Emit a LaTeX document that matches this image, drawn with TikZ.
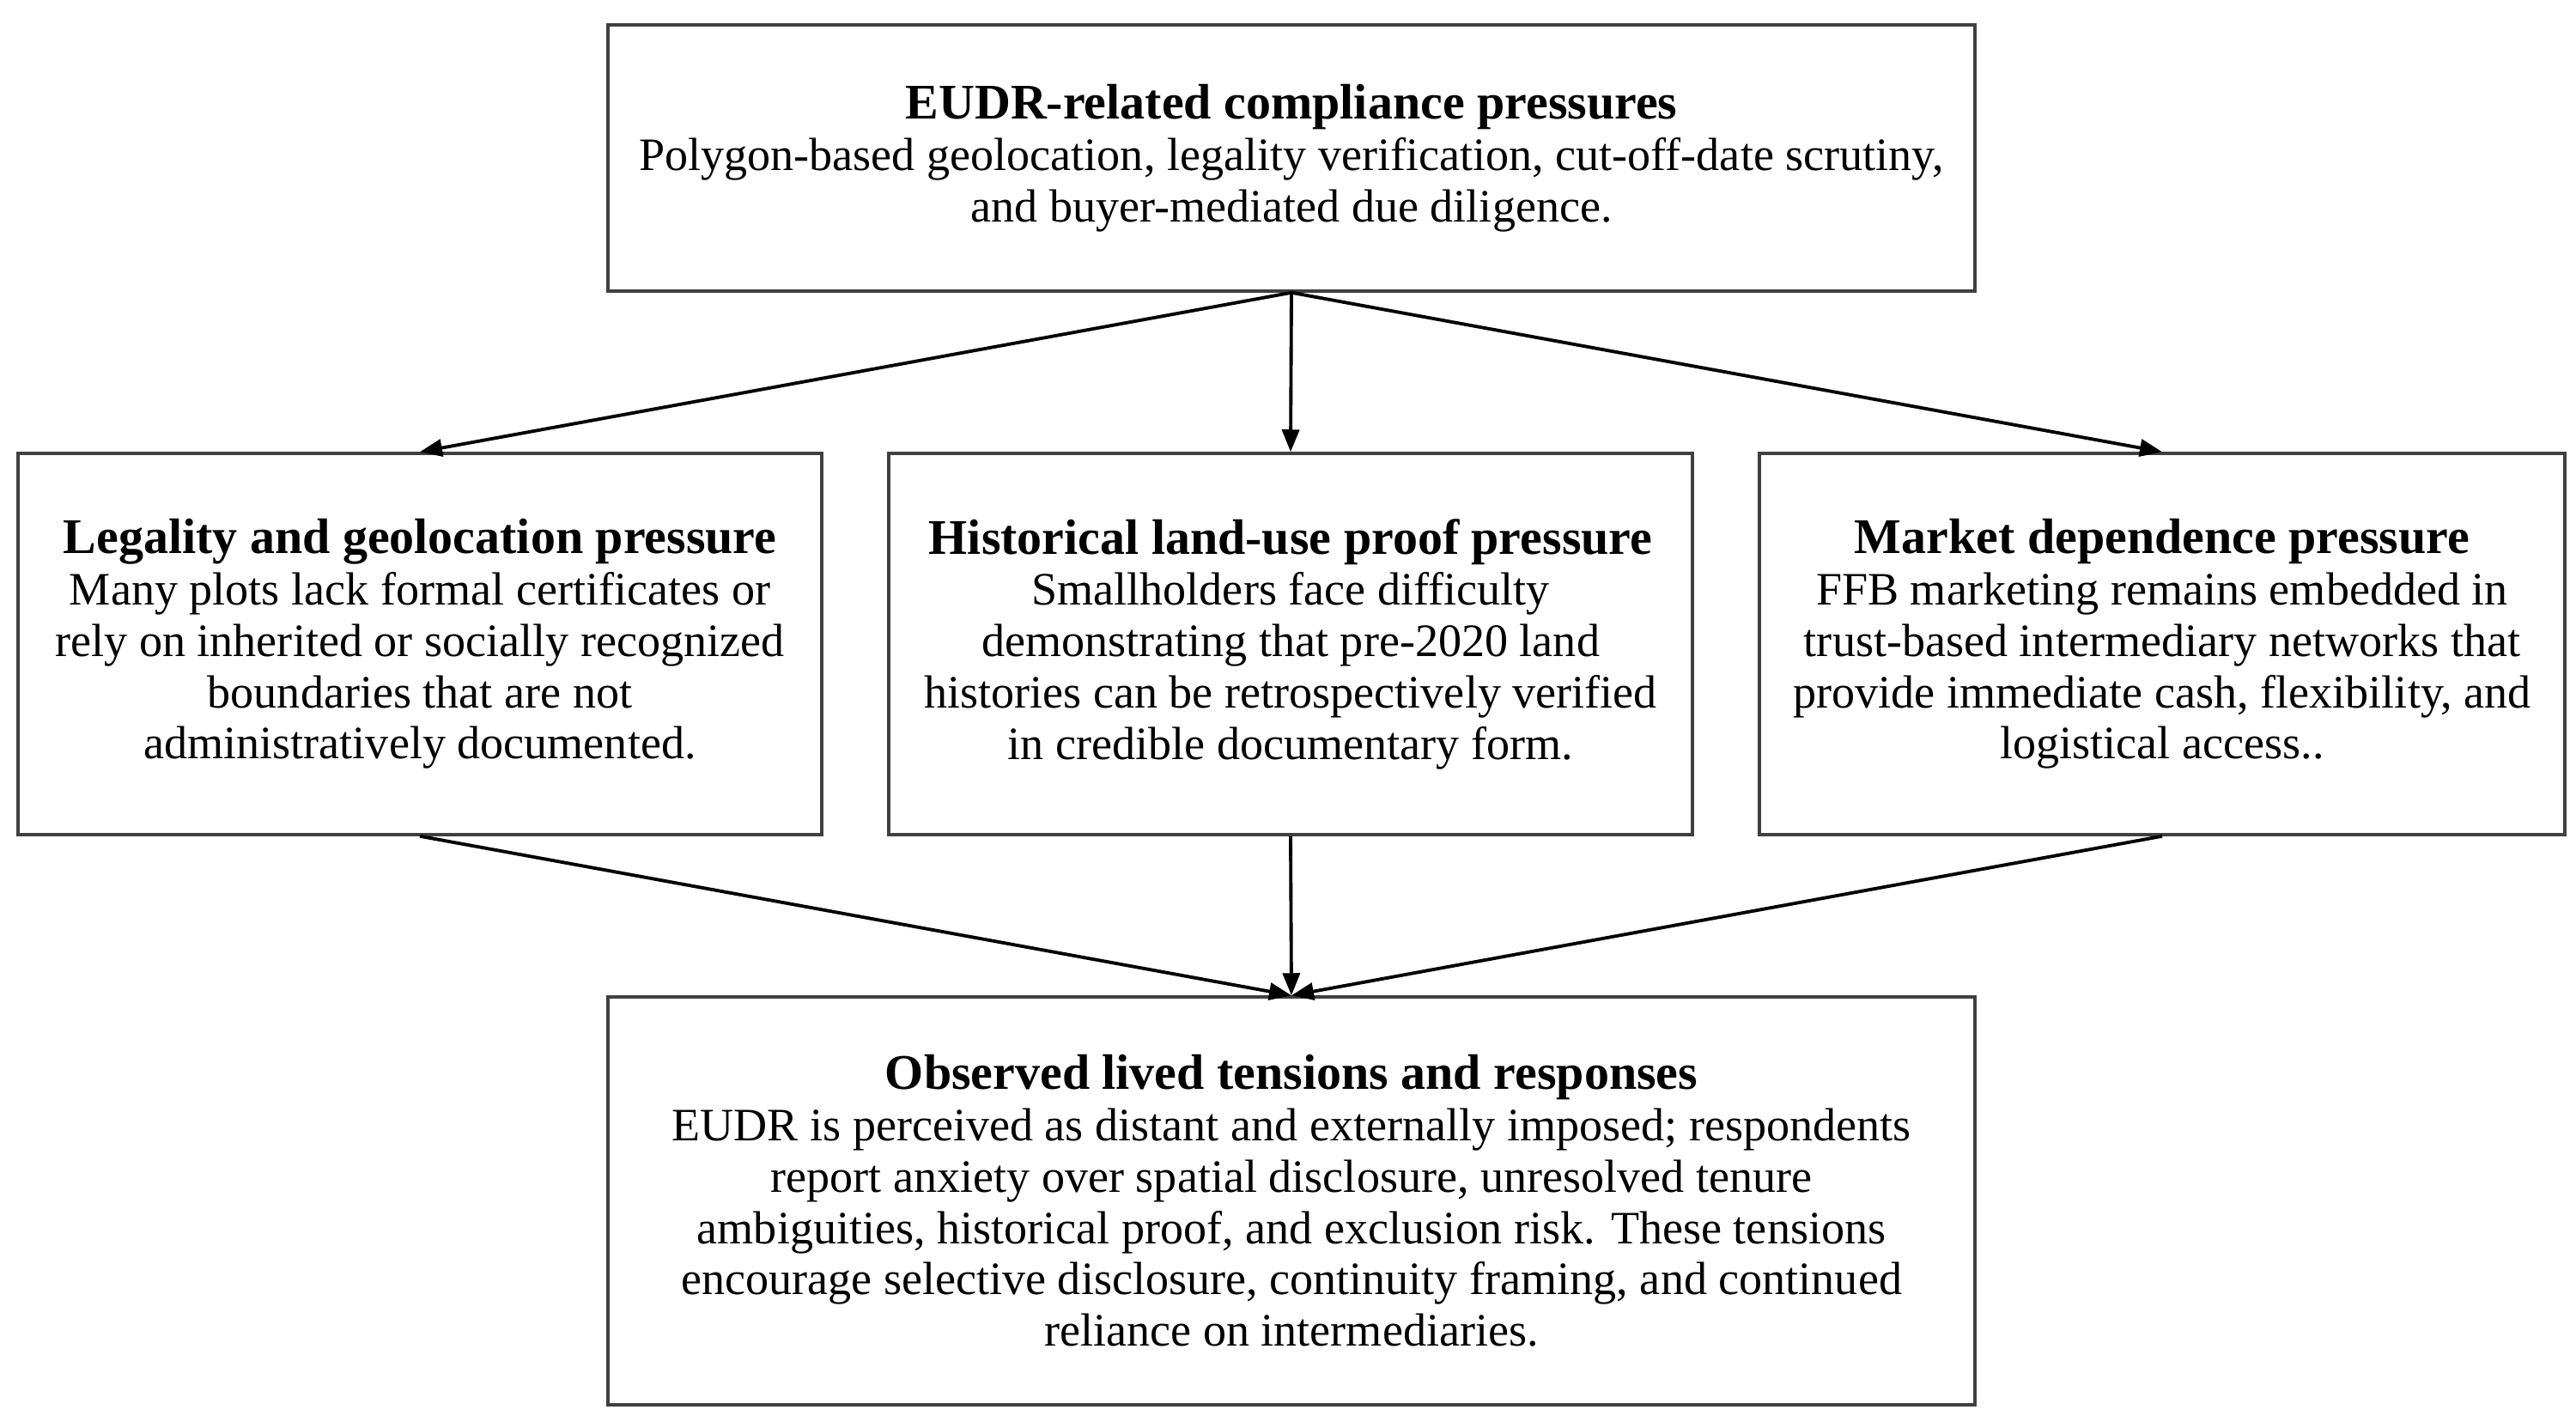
\documentclass[tikz,border=0pt]{standalone}
\usepackage{fontspec}
\setmainfont{Liberation Serif}
\usetikzlibrary{arrows.meta}
\newcommand{\ttl}[1]{{\fontsize{16.5}{17}\selectfont\bfseries #1}}
\tikzset{
  box/.style={draw=black!75, line width=1pt, fill=white, align=center,
    inner sep=0pt, font=\fontsize{15.4}{17}\selectfont},
  conn/.style={line width=1.1pt, -{Triangle[length=2.6mm,width=2mm]}}
}
\begin{document}
\begin{tikzpicture}
\useasboundingbox (0,0) rectangle (30,-16.62);
\node[box, minimum width=15.92cm, minimum height=3.10cm] (top) at (15.04,-1.84)
  {\ttl{EUDR-related compliance pressures}\\
   Polygon-based geolocation, legality verification, cut-off-date scrutiny,\\
   and buyer-mediated due diligence.};
\node[box, minimum width=9.36cm, minimum height=4.44cm] (left) at (4.89,-7.50)
  {\ttl{Legality and geolocation pressure}\\
   Many plots lack formal certificates or\\
   rely on inherited or socially recognized\\
   boundaries that are not\\
   administratively documented.};
\node[box, minimum width=9.36cm, minimum height=4.44cm] (mid) at (15.03,-7.50)
  {\ttl{Historical land-use proof pressure}\\
   Smallholders face difficulty\\
   demonstrating that pre-2020 land\\
   histories can be retrospectively verified\\
   in credible documentary form.};
\node[box, minimum width=9.38cm, minimum height=4.44cm] (right) at (25.18,-7.50)
  {\ttl{Market dependence pressure}\\
   FFB marketing remains embedded in\\
   trust-based intermediary networks that\\
   provide immediate cash, flexibility, and\\
   logistical access..};
\node[box, minimum width=15.92cm, minimum height=4.75cm] (bot) at (15.04,-13.985)
  {\ttl{Observed lived tensions and responses}\\
   EUDR is perceived as distant and externally imposed; respondents\\
   report anxiety over spatial disclosure, unresolved tenure\\
   ambiguities, historical proof, and exclusion risk. These tensions\\
   encourage selective disclosure, continuity framing, and continued\\
   reliance on intermediaries.};
\draw[conn] (top.south) -- (left.north);
\draw[conn] (top.south) -- (mid.north);
\draw[conn] (top.south) -- (right.north);
\draw[conn] (left.south) -- (bot.north);
\draw[conn] (mid.south) -- (bot.north);
\draw[conn] (right.south) -- (bot.north);
\end{tikzpicture}
\end{document}
